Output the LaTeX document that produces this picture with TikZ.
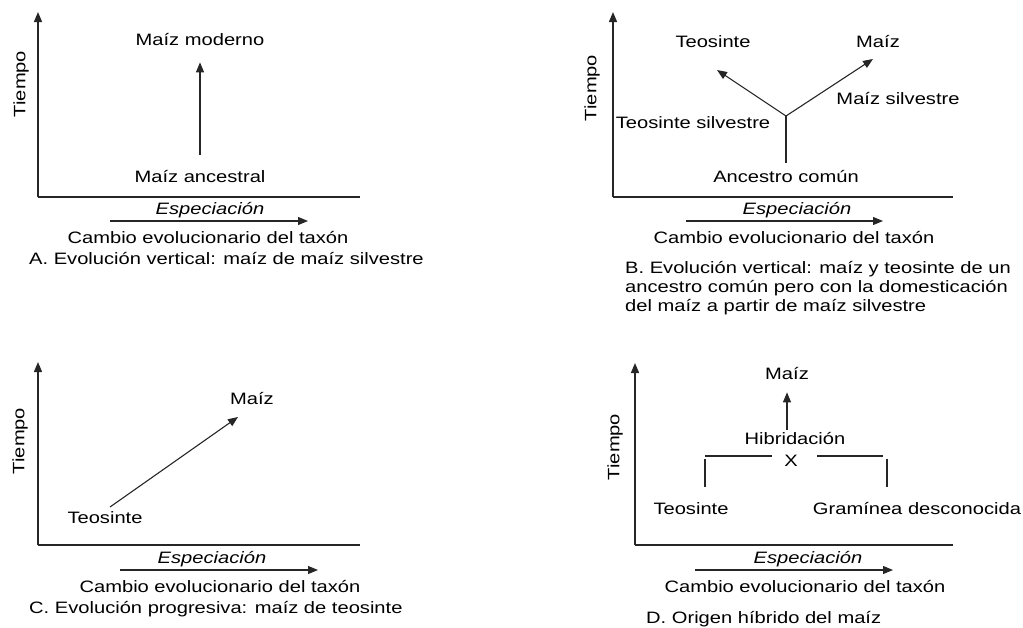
\documentclass[tikz,border=0pt]{standalone}
\usepackage{fontspec}
\setmainfont[FakeStretch=1.22]{Liberation Sans}
\usetikzlibrary{positioning, arrows.meta}

\begin{document}
\begin{tikzpicture}[x=1pt, y=-1pt, font=\fontsize{16.5}{19}\selectfont,
    lbl/.style={anchor=base, inner sep=0pt},
    esp/.style={lbl, font=\fontsize{16.5}{19}\selectfont\itshape},
    legend/.style={anchor=base west, inner sep=0pt},
    axis/.style={line width=1.4pt, draw=black!85},
    branch/.style={line width=1.1pt, draw=black!85},
    tip/.style={-{Triangle[length=10pt, width=8pt]}}]
    \useasboundingbox (0,0) rectangle (1023,627);

    % A
    \coordinate (A0) at (38,197);
    \coordinate (Ay) at (38,12);
    \coordinate (Ax) at (360,197);
    \draw[axis, tip] (A0) -- (Ay);
    \draw[axis] (A0) -- (Ax);
    \node[rotate=90] (Atiempo) at (21,84) {Tiempo};
    \node[lbl] (Amod) at (200,45) {Maíz moderno};
    \node[lbl] (Aanc) at (200,182) {Maíz ancestral};
    \draw[branch, tip, shorten <=15pt, shorten >=17pt] (Aanc) -- (Amod);
    \node[esp] (Aesp) at (210,214) {Especiación};
    \coordinate (Aa1) at (110,221);
    \coordinate (Aa2) at (308,221);
    \draw[branch, tip] (Aa1) -- (Aa2);
    \node[lbl] (Acam) at (208,243) {Cambio evolucionario del taxón};
    \node[legend] (Acap) at (29,264) {A. Evolución vertical: maíz de maíz silvestre};

    % B
    \coordinate (B0) at (613,197);
    \coordinate (By) at (613,12);
    \coordinate (Bx) at (953,197);
    \draw[axis, tip] (B0) -- (By);
    \draw[axis] (B0) -- (Bx);
    \node[rotate=90] (Btiempo) at (592,88) {Tiempo};
    \node[lbl] (Bteo) at (713,47) {Teosinte};
    \node[lbl] (Bmaiz) at (878,47) {Maíz};
    \node[lbl] (Bmsil) at (898,104) {Maíz silvestre};
    \node[lbl] (Btsil) at (693,128) {Teosinte silvestre};
    \node[lbl] (Banc) at (786,182) {Ancestro común};
    \coordinate (Bj) at (786,116);
    \coordinate (Btl) at (717,70);
    \coordinate (Btr) at (873,59);
    \draw[branch, shorten <=7pt] (Banc) -- (Bj);
    \draw[branch, tip] (Bj) -- (Btl);
    \draw[branch, tip] (Bj) -- (Btr);
    \node[esp] (Besp) at (797,214) {Especiación};
    \coordinate (Ba1) at (686,221);
    \coordinate (Ba2) at (883,221);
    \draw[branch, tip] (Ba1) -- (Ba2);
    \node[lbl] (Bcam) at (794,243) {Cambio evolucionario del taxón};
    \node[anchor=north west, inner sep=0pt, align=left] (Bcap) at (625,261)
        {B. Evolución vertical: maíz y teosinte de un\\
         ancestro común pero con la domesticación\\
         del maíz a partir de maíz silvestre};

    % C
    \coordinate (C0) at (38,545);
    \coordinate (Cy) at (38,362);
    \coordinate (Cx) at (360,545);
    \draw[axis, tip] (C0) -- (Cy);
    \draw[axis] (C0) -- (Cx);
    \node[rotate=90] (Ctiempo) at (20,441) {Tiempo};
    \node[lbl] (Cmaiz) at (252,404) {Maíz};
    \node[lbl] (Cteo) at (105,523) {Teosinte};
    \coordinate (Cs) at (110,507);
    \coordinate (Ce) at (238,417);
    \draw[branch, tip] (Cs) -- (Ce);
    \node[esp] (Cesp) at (212,563) {Especiación};
    \coordinate (Ca1) at (120,570);
    \coordinate (Ca2) at (318,570);
    \draw[branch, tip] (Ca1) -- (Ca2);
    \node[lbl] (Ccam) at (220,592) {Cambio evolucionario del taxón};
    \node[legend] (Ccap) at (29,613) {C. Evolución progresiva: maíz de teosinte};

    % D
    \coordinate (D0) at (635,545);
    \coordinate (Dy) at (635,363);
    \coordinate (Dx) at (953,545);
    \draw[axis, tip] (D0) -- (Dy);
    \draw[axis] (D0) -- (Dx);
    \node[rotate=90] (Dtiempo) at (615,447) {Tiempo};
    \node[lbl] (Dmaiz) at (787,379) {Maíz};
    \node[lbl] (Dhib) at (795,444) {Hibridación};
    \node[lbl] (Dcruz) at (791,466) {X};
    \draw[branch, tip, shorten <=2pt, shorten >=13pt] (Dhib.north -| Dmaiz) -- (Dmaiz);
    \draw[branch] (705,456) -- (772,456);
    \draw[branch] (705,459) -- (705,487);
    \draw[branch] (817,456) -- (883,456);
    \draw[branch] (887,459) -- (887,487);
    \node[lbl] (Dteo) at (691,514) {Teosinte};
    \node[lbl] (Dgra) at (917,514) {Gramínea desconocida};
    \node[esp] (Desp) at (808,563) {Especiación};
    \coordinate (Da1) at (695,570);
    \coordinate (Da2) at (893,570);
    \draw[branch, tip] (Da1) -- (Da2);
    \node[lbl] (Dcam) at (805,592) {Cambio evolucionario del taxón};
    \node[legend] (Dcap) at (646,623) {D. Origen híbrido del maíz};
\end{tikzpicture}
\end{document}
